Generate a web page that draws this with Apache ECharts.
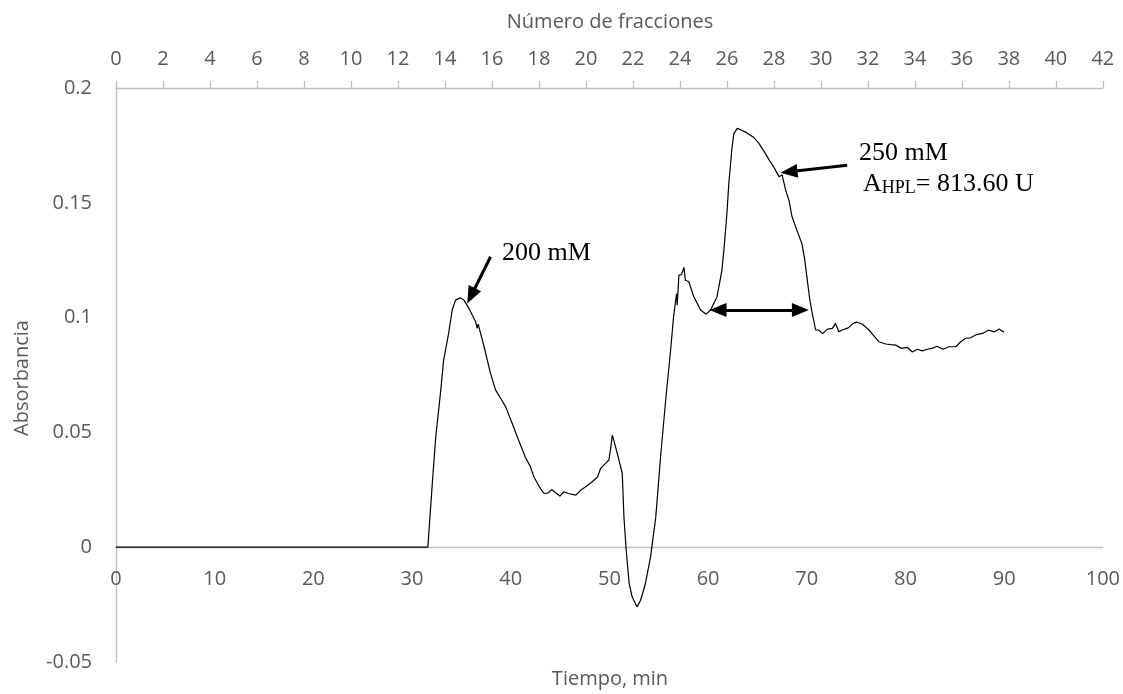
<!DOCTYPE html>
<html>
<head>
<meta charset="utf-8">
<script src="https://cdn.jsdelivr.net/npm/echarts@6/dist/echarts.min.js"></script>
<style>
  html, body { margin: 0; padding: 0; background: #ffffff; }
  #chart { width: 1123px; height: 694px; }
</style>
</head>
<body>
<div id="chart"></div>
<script>
// Elution profile: absorbance versus time (min)
const tiempo = [
  0, 10, 20, 31.6, 32.05, 32.4, 32.9, 33.2, 33.7, 34.07, 34.4, 34.9, 35.26, 35.77,
  36.44, 36.6, 36.7, 37.3, 37.95, 38.47, 39.1, 39.5, 40.15, 40.8, 41.5, 42.0, 42.35,
  42.9, 43.36, 43.8, 44.15, 44.55, 45.0, 45.35, 45.85, 46.6, 47.08, 47.6, 48.26, 48.8,
  49.1, 49.6, 49.95, 50.1, 50.3, 50.8, 51.3, 51.47, 51.7, 52.0, 52.3, 52.8, 53.16,
  53.65, 54.17, 54.7, 55.18, 55.7, 56.2, 56.5, 56.8, 56.87, 57.04, 57.3, 57.55, 57.7,
  58.05, 58.56, 58.9, 59.24, 59.8, 60.25, 60.9, 61.4, 61.6, 61.9, 62.1, 62.4, 62.6,
  62.95, 63.4, 63.8, 64.1, 64.6, 65.15, 65.7, 66.2, 66.7, 67.2, 67.5, 67.85, 68.2,
  68.5, 69.0, 69.5, 69.8, 70.05, 70.3, 70.55, 70.9, 71.2, 71.6, 72.1, 72.6, 72.9,
  73.25, 73.6, 74.2, 74.7, 75.1, 75.6, 76.3, 76.8, 77.3, 78.0, 78.5, 79.0, 79.6, 80.2,
  80.7, 81.2, 81.7, 82.2, 82.7, 83.2, 83.8, 84.4, 85.1, 85.6, 86.1, 86.6, 87.2, 87.8,
  88.4, 89.0, 89.5, 89.8, 90.0
];
const absorbancia = [
  0, 0, 0, 0, 0.0277, 0.048, 0.068, 0.0815, 0.093, 0.1033, 0.1076, 0.1086, 0.1076, 0.104,
  0.0982, 0.0953, 0.0972, 0.0873, 0.0757, 0.0684, 0.064, 0.061, 0.0539, 0.0466, 0.039, 0.035, 0.0306,
  0.0263, 0.0234, 0.0237, 0.0251, 0.0237, 0.0222, 0.0241, 0.0234, 0.0227, 0.0248, 0.0263, 0.0285, 0.0306,
  0.0343, 0.0365, 0.038, 0.0423, 0.0488, 0.0408, 0.0321, 0.0132, -0.0013, -0.0158, -0.0216, -0.026, -0.0231,
  -0.0158, -0.0042, 0.0132, 0.0393, 0.064, 0.0858, 0.1003, 0.1105, 0.1054, 0.1185, 0.1187, 0.1219, 0.1163,
  0.1156, 0.109, 0.1062, 0.1033, 0.1015, 0.1033, 0.109, 0.1207, 0.1294, 0.145, 0.1585, 0.173, 0.180,
  0.1824, 0.1816, 0.1808, 0.180, 0.1786, 0.1759, 0.1722, 0.1686, 0.1652, 0.1613, 0.1622, 0.1556, 0.151,
  0.144, 0.138, 0.1323, 0.125, 0.1163, 0.108, 0.1018, 0.0946, 0.0946, 0.093, 0.095, 0.0953, 0.0975,
  0.0938, 0.0946, 0.0955, 0.0975, 0.098, 0.0972, 0.0946, 0.092, 0.0895, 0.0885, 0.0882, 0.088, 0.0866, 0.087,
  0.085, 0.0862, 0.0855, 0.0862, 0.0866, 0.0875, 0.0862, 0.0873, 0.0873, 0.0895, 0.091, 0.0912, 0.0926, 0.0931,
  0.0945, 0.0938, 0.095, 0.0941, 0.0938
];

// Axis ranges and tick steps
const tiempoTicks = { min: 0, max: 100, step: 10 };
const fraccionTicks = { min: 0, max: 42, step: 2 };
const absTicks = { min: -0.05, max: 0.2, step: 0.05 };

// Annotation arrows: [from, to] in (min, absorbance)
const flecha200 = [[37.96, 0.1265], [35.98, 0.1095]];
const flecha250 = [[74.09, 0.1664], [68.2, 0.1635]];
const flechaDoble = [[61.0, 0.1033], [69.35, 0.1033]];

const serie = tiempo.map((t, i) => [t, absorbancia[i]]);

const gray = '#595959';
const axisGray = '#BFBFBF';
const sans = '"Open Sans", "Noto Sans", sans-serif';
const serif = '"Liberation Serif", "DejaVu Serif", serif';

const gridBox = { left: 116, right: 19, top: 88, bottom: 32 };
const chartHeight = 694;
const plotHeight = chartHeight - gridBox.top - gridBox.bottom;
// the time axis sits on the zero line of the absorbance scale
const zeroOffset = -((0 - absTicks.min) / (absTicks.max - absTicks.min)) * plotHeight;

const chart = echarts.init(document.getElementById('chart'), null, { renderer: 'canvas' });

chart.setOption({
  animation: false,
  backgroundColor: '#ffffff',
  grid: Object.assign({ containLabel: false }, gridBox),
  xAxis: [
    {
      type: 'value',
      position: 'bottom',
      offset: zeroOffset,
      min: tiempoTicks.min, max: tiempoTicks.max, interval: tiempoTicks.step,
      axisLine: { show: true, onZero: false, lineStyle: { color: axisGray, width: 1.3 } },
      axisTick: { show: false },
      splitLine: { show: false },
      axisLabel: { color: gray, fontSize: 20, fontFamily: sans, margin: 22 }
    },
    {
      type: 'value',
      position: 'top',
      min: fraccionTicks.min, max: fraccionTicks.max, interval: fraccionTicks.step,
      axisLine: { show: true, onZero: false, lineStyle: { color: axisGray, width: 1.3 } },
      axisTick: { show: true, inside: false, length: 7, lineStyle: { color: axisGray, width: 1.3 } },
      splitLine: { show: false },
      axisLabel: { color: gray, fontSize: 20, fontFamily: sans, margin: 19 }
    }
  ],
  yAxis: {
    type: 'value',
    min: absTicks.min, max: absTicks.max, interval: absTicks.step,
    axisLine: { show: true, onZero: false, lineStyle: { color: axisGray, width: 1.3 } },
    axisTick: { show: false },
    splitLine: { show: false },
    axisLabel: { color: gray, fontSize: 20, fontFamily: sans, margin: 24 }
  },
  series: [
    {
      type: 'line',
      xAxisIndex: 0,
      yAxisIndex: 0,
      data: serie,
      showSymbol: false,
      symbol: 'none',
      smooth: false,
      clip: false,
      lineStyle: { color: '#000000', width: 1.2 },
      markLine: {
        silent: true,
        animation: false,
        label: { show: false },
        symbol: ['none', 'triangle'],
        symbolSize: [14, 17],
        lineStyle: { color: '#000000', width: 3, type: 'solid' },
        data: [
          [
            { coord: flecha200[0], symbol: 'none' },
            { coord: flecha200[1], symbol: 'triangle' }
          ],
          [
            { coord: flecha250[0], symbol: 'none' },
            { coord: flecha250[1], symbol: 'triangle' }
          ],
          [
            { coord: flechaDoble[0], symbol: 'triangle' },
            { coord: flechaDoble[1], symbol: 'triangle' }
          ]
        ]
      }
    }
  ],
  graphic: [
    {
      type: 'text', x: 610, y: 22,
      style: { text: 'Número de fracciones', fill: gray, font: '20px ' + sans,
               textAlign: 'center', textVerticalAlign: 'middle', align: 'center', verticalAlign: 'middle' }
    },
    {
      type: 'text', x: 610, y: 679,
      style: { text: 'Tiempo, min', fill: gray, font: '20px ' + sans,
               textAlign: 'center', textVerticalAlign: 'middle', align: 'center', verticalAlign: 'middle' }
    },
    {
      type: 'text', x: 22, y: 378, rotation: Math.PI / 2,
      style: { text: 'Absorbancia', fill: gray, font: '20px ' + sans,
               textAlign: 'center', textVerticalAlign: 'middle', align: 'center', verticalAlign: 'middle' }
    },
    {
      type: 'text', x: 502, y: 253.5,
      style: { text: '200 mM', fill: '#000000', font: '26px ' + serif,
               textAlign: 'left', textVerticalAlign: 'middle', align: 'left', verticalAlign: 'middle' }
    },
    {
      type: 'text', x: 859, y: 153,
      style: { text: '250 mM', fill: '#000000', font: '26px ' + serif,
               textAlign: 'left', textVerticalAlign: 'middle', align: 'left', verticalAlign: 'middle' }
    },
    {
      type: 'text', x: 863, y: 184,
      style: {
        text: '{a|A}{s|HPL}{a|= 813.60 U}',
        fill: '#000000',
        textAlign: 'left', textVerticalAlign: 'middle', align: 'left', verticalAlign: 'middle',
        rich: {
          a: { fontSize: 26, fontFamily: serif, fill: '#000000', color: '#000000', verticalAlign: 'bottom' },
          s: { fontSize: 18, fontFamily: serif, fill: '#000000', color: '#000000', verticalAlign: 'bottom' }
        }
      }
    }
  ]
});
</script>
</body>
</html>
